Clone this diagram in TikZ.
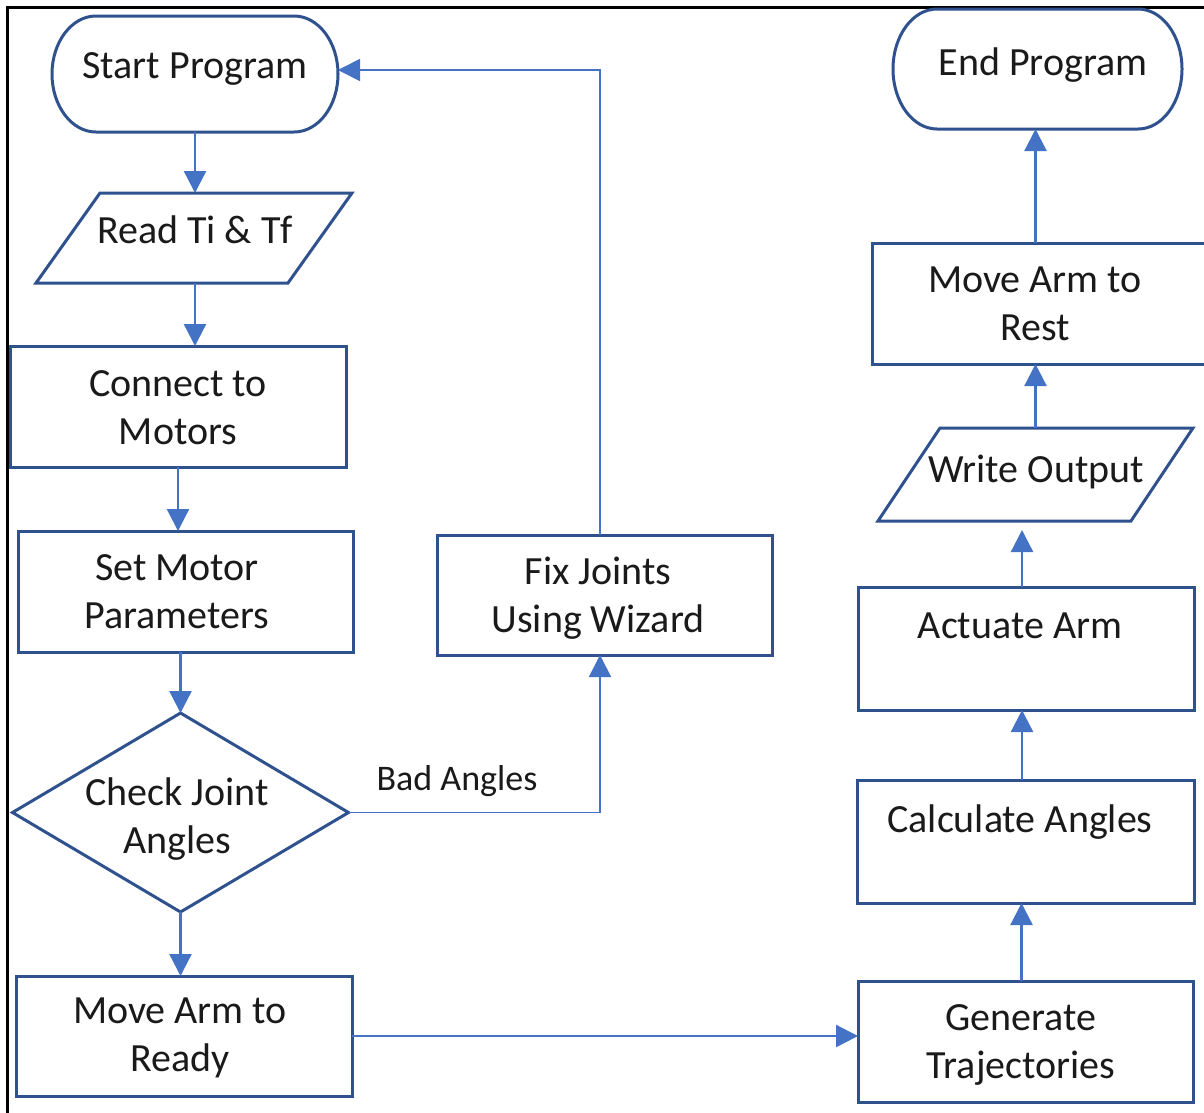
\documentclass[tikz,border=0pt]{standalone}
\usepackage{fontspec}
\setmainfont{Carlito}
\usetikzlibrary{arrows.meta,shapes.geometric,calc}
\definecolor{edgeblue}{HTML}{2F528F}
\definecolor{linkblue}{HTML}{4472C4}
\definecolor{inkblack}{HTML}{1A1A1A}
\begin{document}
\begin{tikzpicture}[x=1pt,y=-1pt,
  shapebox/.style={draw=edgeblue,line width=3pt,rectangle,inner sep=0pt,outer sep=0pt},
  ghost/.style={draw=none,rectangle,inner sep=0pt,outer sep=0pt},
  outline/.style={draw=edgeblue,line width=3pt,line join=miter},
  lbl/.style={font=\fontsize{40}{48}\selectfont,align=center,anchor=base,inner sep=0pt,text=inkblack},
  smalllbl/.style={font=\fontsize{36}{43}\selectfont,anchor=base,inner sep=0pt,text=inkblack},
  link/.style={draw=linkblue,line width=2.3pt,-{Triangle[length=22pt,width=22pt]}},
  thinlink/.style={draw=linkblue,line width=1.7pt,-{Triangle[length=22pt,width=22pt]}},
]
\clip (0,0) rectangle (1204,1112);
\fill[white] (0,0) rectangle (1204,1112);
\draw[black,line width=3pt] (7,1120) -- (7,7) -- (1215,7);

% Start Program
\node[ghost,minimum width=286pt,minimum height=116pt] (st) at (195,74) {};
\draw[outline] ([xshift=44pt]st.north west) -- ([xshift=-44pt]st.north east)
  arc[start angle=90,end angle=-90,x radius=44pt,y radius=58pt]
  -- ([xshift=44pt]st.south west)
  arc[start angle=270,end angle=90,x radius=44pt,y radius=58pt] -- cycle;
\node[lbl] (stt) at (195,78) {Start Program};

% Read Ti & Tf
\node[ghost,minimum width=316pt,minimum height=90pt] (rd) at (194,238) {};
\draw[outline] ([xshift=64pt]rd.north west) -- (rd.north east)
  -- ([xshift=-64pt]rd.south east) -- (rd.south west) -- cycle;
\node[lbl] (rdt) at (195,243) {Read Ti \& Tf};

% Connect to Motors
\node[shapebox,minimum width=336pt,minimum height=121pt] (cm) at (178,406.5) {};
\node[lbl] (cmt) at (178,444) {Connect to\\Motors};

% Set Motor Parameters
\node[shapebox,minimum width=335pt,minimum height=121pt] (sm) at (185.5,591.5) {};
\node[lbl] (smt) at (177,628) {Set Motor\\Parameters};

% Check Joint Angles
\node[draw=edgeblue,line width=3pt,diamond,minimum width=336pt,minimum height=199pt,inner sep=0pt,outer sep=0pt] (dj) at (180.5,812.5) {};
\node[lbl] (djt) at (177,853) {Check Joint\\Angles};

% Move Arm to Ready
\node[shapebox,minimum width=336pt,minimum height=120pt] (mr) at (184,1036) {};
\node[lbl] (mrt) at (180,1071) {Move Arm to\\Ready};

% Generate Trajectories
\node[shapebox,minimum width=335pt,minimum height=121pt] (gt) at (1025.5,1041.5) {};
\node[lbl] (gtt) at (1021,1078) {Generate\\Trajectories};

% Calculate Angles
\node[shapebox,minimum width=337pt,minimum height=123pt] (ca) at (1026,841.5) {};
\node[lbl] (cat) at (1020,832) {Calculate Angles};

% Actuate Arm
\node[shapebox,minimum width=336pt,minimum height=123pt] (ac) at (1026,648.5) {};
\node[lbl] (act) at (1020,638) {Actuate Arm};

% Write Output
\node[ghost,minimum width=315pt,minimum height=93pt] (wo) at (1035.5,474.5) {};
\draw[outline] ([xshift=62pt]wo.north west) -- (wo.north east)
  -- ([xshift=-62pt]wo.south east) -- (wo.south west) -- cycle;
\node[lbl] (wot) at (1036,482) {Write Output};

% Move Arm to Rest
\node[shapebox,minimum width=340pt,minimum height=121pt] (rs) at (1042,303.5) {};
\node[lbl] (rst) at (1035,340) {Move Arm to\\Rest};

% End Program
\node[ghost,minimum width=289pt,minimum height=120pt] (en) at (1037.5,69) {};
\draw[outline] ([xshift=44pt]en.north west) -- ([xshift=-44pt]en.north east)
  arc[start angle=90,end angle=-90,x radius=44pt,y radius=60pt]
  -- ([xshift=44pt]en.south west)
  arc[start angle=270,end angle=90,x radius=44pt,y radius=60pt] -- cycle;
\node[lbl] (ent) at (1043,75) {End Program};

% Fix Joints Using Wizard
\node[shapebox,minimum width=335pt,minimum height=120pt] (fx) at (604.5,595) {};
\node[lbl] (fxt) at (598,632) {Fix Joints\\Using Wizard};

% Bad Angles label
\node[smalllbl] (ba) at (457,790) {Bad Angles};

% Connectors
\draw[link] (st.south) -- (st.south |- rd.north);
\draw[link] (st.south |- rd.south) -- (st.south |- cm.north);
\draw[link] (cm.south) -- (cm.south |- sm.north);
\draw[link] (dj.north |- sm.south) -- (dj.north);
\draw[link] (dj.south) -- (dj.south |- mr.north);
\draw[link] (mr.east) -- (mr.east -| gt.west);
\draw[link] ([xshift=-4pt]gt.north) -- ([xshift=-4pt]gt.north |- ca.south);
\draw[link] ([xshift=-4pt]ca.north) -- ([xshift=-4pt]ca.north |- ac.south);
\draw[link,shorten >=9pt] ([xshift=-4pt]ac.north) -- ([xshift=-4pt]ac.north |- wo.south);
\draw[link] (wo.north) -- (wo.north |- rs.south);
\draw[link] (wo.north |- rs.north) -- (wo.north |- en.south);
\draw[thinlink] (dj.east) -| ([xshift=-4.5pt]fx.south);
\draw[thinlink] ([xshift=-4.5pt]fx.north) |- ([yshift=4pt]st.east);
\end{tikzpicture}
\end{document}
